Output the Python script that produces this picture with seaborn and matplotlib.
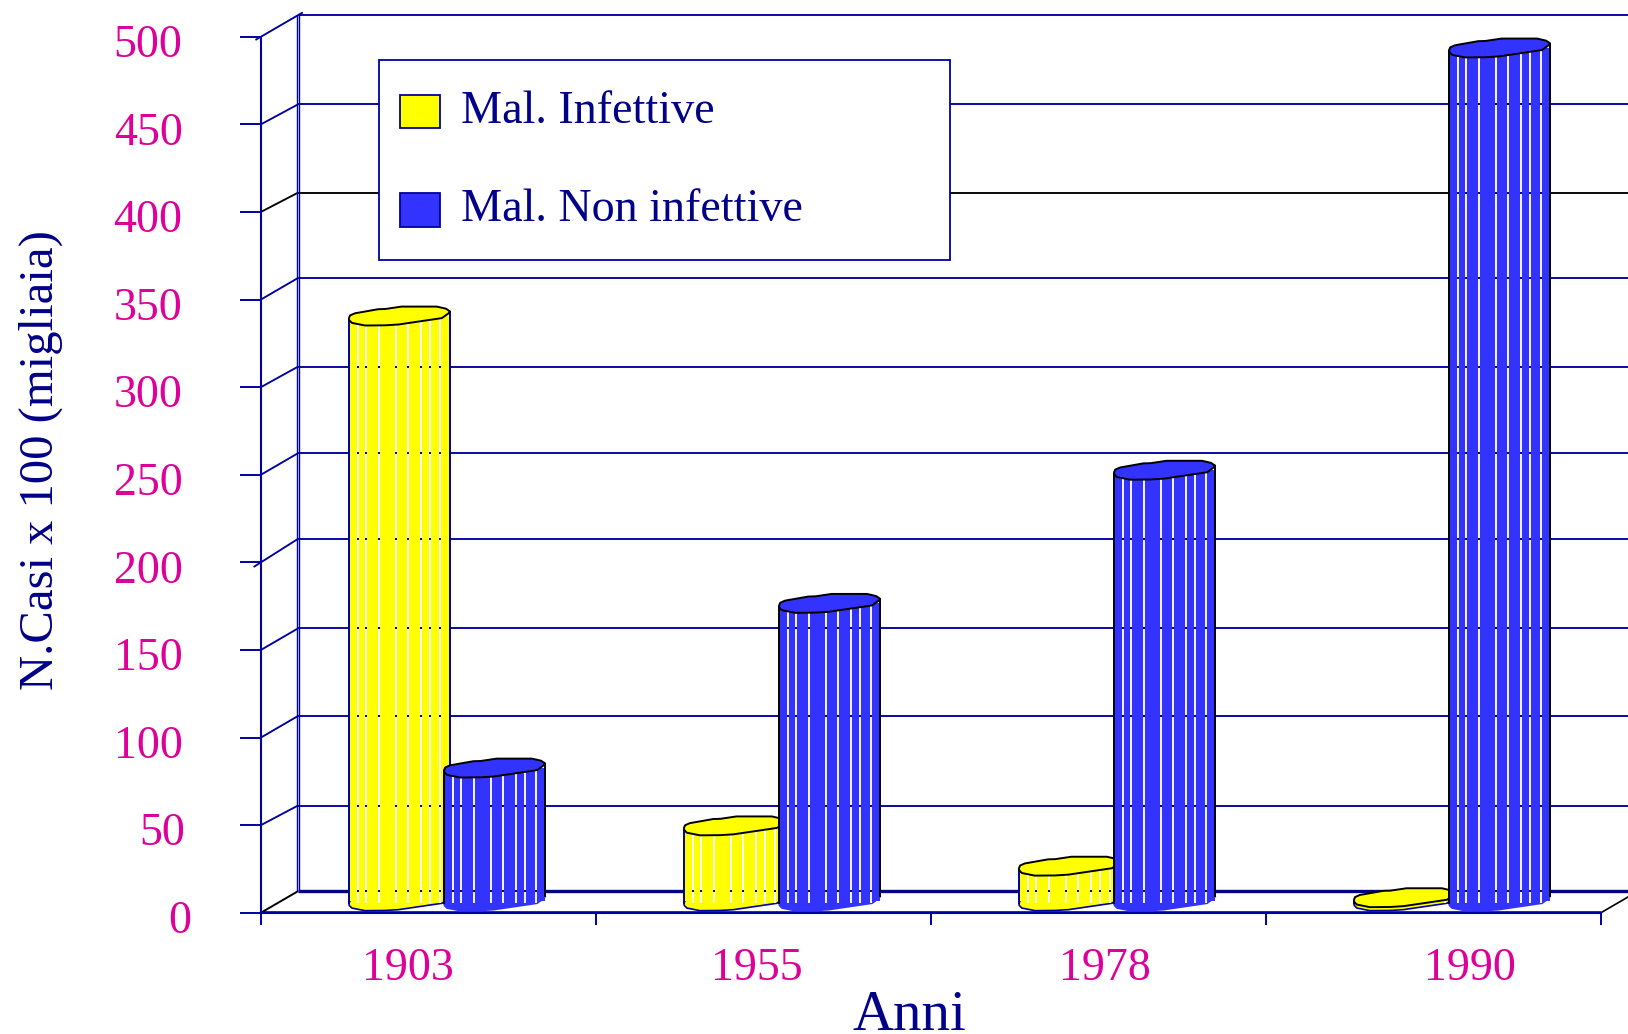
import numpy as np
import pandas as pd
import matplotlib
matplotlib.use("Agg")
import matplotlib.pyplot as plt
from matplotlib.patches import Polygon, Rectangle
from matplotlib.transforms import ScaledTranslation
import seaborn as sns

YEARS = ["1903", "1955", "1978", "1990"]
INFETTIVE = [334, 43, 20, 2]
NON_INFETTIVE = [76, 170, 246, 487]
SERIES = ["Mal. Infettive", "Mal. Non infettive"]
Y_TICKS = list(range(0, 501, 50))
YEAR_LABEL_POS = [-0.063, 0.98, 2.02, 3.11]
Y_LABEL_DX = [9, 3, 0, 0, 0, 0, 0, 0, 0, 0, 0]  # the labels are not quite right aligned
BACK_NUDGE = [0, -1.1, 0, 0, 1.1, 0, -0.6, 0, -1.3, -0.9, 0]  # wall grid is a bit uneven

NAVY = "#0000A0"
TEXT_NAVY = "#000088"
PINK = "#DD0099"
YELLOW = "#FFFF00"
BLUE = "#3333FF"

W, H = 1628, 1034
LEFT, RIGHT, TOP, BOTTOM = 261, 1601, 36.7, 912.7
PX_X = (RIGHT - LEFT) / 4  # pixels for one category
PX_Y = (BOTTOM - TOP) / 500  # pixels for one case unit
DEPTH_X = 37 / PX_X
DEPTH_Y = 21.5 / PX_Y

# outline of a cylinder cap: fraction of bar width, pixels above the centre
CAP_U = [0, 0.012, 0.06, 0.29, 0.36, 0.52, 0.87, 0.96, 1, 0.985, 0.92, 0.49, 0.36, 0.16, 0.03, 0.005]
CAP_DY = [-2.5, 0.5, 2.6, 6.7, 6.9, 9.3, 9.3, 7.2, 4.5, 2.5, -2.2, -8.6, -9.4, -9.6, -7, -4.5]
STRIPES = [0.09, 0.17, 0.295, 0.465, 0.583, 0.71, 0.805, 0.905]

sns.set_theme(style="white")
plt.rcParams["font.family"] = ["Liberation Serif", "DejaVu Serif"]

df = pd.DataFrame({
    "anno": YEARS * 2,
    "casi": INFETTIVE + NON_INFETTIVE,
    "serie": [SERIES[0]] * 4 + [SERIES[1]] * 4,
})

fig = plt.figure(figsize=(W / 100, H / 100), dpi=100)
ax = fig.add_axes([LEFT / W, 1 - BOTTOM / H, (RIGHT - LEFT) / W, (BOTTOM - TOP) / H])
ax.patch.set_alpha(0)

sns.barplot(data=df, x="anno", y="casi", hue="serie", hue_order=SERIES,
            palette=[YELLOW, BLUE], order=YEARS, width=0.568, linewidth=0,
            saturation=1, ax=ax)
ax.set_xlim(-0.5, 3.5)
ax.set_ylim(0, 500)


def line(xs, ys, color=NAVY, lw=1.35, **kw):
    ax.plot(xs, ys, color=color, lw=lw, clip_on=False, solid_capstyle="butt", **kw)


# back wall and side wall
x0 = -0.5
xb = x0 + DEPTH_X
xend = 3.5 + DEPTH_X
back_y = [v + DEPTH_Y + n for v, n in zip(Y_TICKS, BACK_NUDGE)]
for v, by in zip(Y_TICKS, back_y):
    c = "black" if v == 400 else NAVY
    if v == 0:
        continue
    line([xb, xend], [by, by], c, zorder=1.5)
    t0, t1 = (0, 1)
    if v == 500:
        t0, t1 = -0.15, 1.13
    if v == 200:
        t0 = -0.2
    line([x0 + t0 * DEPTH_X, x0 + t1 * DEPTH_X], [v + t0 * (by - v), v + t1 * (by - v)], c, zorder=1.5)

line([x0, xb], [0, DEPTH_Y], "black", 1.4, zorder=1.6)
line([3.5, xend], [0, DEPTH_Y], "black", 1.2, zorder=1.6)
line([xb, xend], [DEPTH_Y, DEPTH_Y], "#000080", 2.4, zorder=1.5)
for dx in (-1.1, 1.1):
    line([xb + dx / PX_X] * 2, [DEPTH_Y, 500 + DEPTH_Y], NAVY, 1.0, zorder=1.5)
line([x0, 3.5], [0.45, 0.45], "black", 1.1, zorder=1.6)

# turn the flat bars into striped cylinders
for i, (container, color) in enumerate(zip(ax.containers[:2], [YELLOW, BLUE])):
    side = NAVY if color == YELLOW else "black"
    z = 3 + i
    for rect in container:
        rect.set_x(rect.get_x() + DEPTH_X / 2 - 3 / PX_X)
        rect.set_width(rect.get_width() + 6 / PX_X)
        rect.set_y(DEPTH_Y / 2 + 0.5)
        rect.set_zorder(z)
        xl, w = rect.get_x(), rect.get_width()
        base, top = rect.get_y(), rect.get_y() + rect.get_height()
        cap_x = xl + np.array(CAP_U) * w
        cap_y = np.array(CAP_DY) / PX_Y

        ax.add_patch(Polygon(np.c_[cap_x, base + cap_y], closed=True, facecolor=color,
                             edgecolor=NAVY if color == YELLOW else BLUE, lw=1.2, zorder=z - 0.1))
        ax.add_patch(Polygon(np.c_[cap_x, top + cap_y], closed=True, facecolor=color,
                             edgecolor="black", lw=1.4, joinstyle="round", zorder=z + 0.4))
        line([xl, xl], [base - 2.5 / PX_Y, top - 2.5 / PX_Y], side, 1.4, zorder=z + 0.3)
        line([xl + w, xl + w], [base + 4.5 / PX_Y, top + 4.5 / PX_Y], side, 1.4, zorder=z + 0.3)

        stripe_low = base - 2 / PX_Y
        for f in STRIPES:
            sx = xl + f * w
            line([sx, sx], [stripe_low, top], "white", 1.35, zorder=z + 0.1)
            # the wall grid shows through the gaps
            gy = [by for by in back_y if stripe_low < by < top]
            ax.plot([sx] * len(gy), gy, ls="", marker="s", ms=1.7, mew=0,
                    color="#000080", zorder=z + 0.2)

# axes, ticks and labels
sns.despine(ax=ax)
for s in ("left", "bottom"):
    ax.spines[s].set_color(NAVY)
    ax.spines[s].set_linewidth(1.5)
ax.set_yticks(Y_TICKS)
ax.set_xticks(np.arange(-0.5, 4), [""] * 5)
ax.set_xticks(YEAR_LABEL_POS, YEARS, minor=True)
ax.tick_params(axis="y", length=15, width=1.4, color=NAVY, labelsize=33, labelcolor=PINK, pad=41.5, left=True)
ax.tick_params(axis="x", which="major", length=8.6, width=1.4, color=NAVY, bottom=True)
ax.tick_params(axis="x", which="minor", length=0, labelsize=33, labelcolor=PINK, pad=25)
for lab, dx in zip(ax.get_yticklabels(), Y_LABEL_DX):
    shift = ScaledTranslation(dx / 100, -4 / 100, fig.dpi_scale_trans)
    lab.set_transform(lab.get_transform() + shift)

ax.set_ylabel("N.Casi x 100 (migliaia)", fontsize=35, color=TEXT_NAVY, va="center", ha="center")
ax.yaxis.set_label_coords((41 - LEFT) / (RIGHT - LEFT), (BOTTOM - 460) / (BOTTOM - TOP))
ax.set_xlabel("Anni", fontsize=41, color=TEXT_NAVY, va="center", ha="center")
ax.xaxis.set_label_coords((909 - LEFT) / (RIGHT - LEFT), (BOTTOM - 1016) / (BOTTOM - TOP))

# legend box is wider than its content
ax.add_patch(Rectangle((378.5 / W, 1 - 260 / H), 571 / W, 200.5 / H, transform=fig.transFigure,
                       facecolor="white", edgecolor=NAVY, lw=1.3, clip_on=False, zorder=6))
handles, labels = ax.get_legend_handles_labels()
leg = ax.legend(handles, labels, loc="upper left", bbox_to_anchor=(400 / W, 1 - 95 / H),
                bbox_transform=fig.transFigure, frameon=False, borderpad=0, borderaxespad=0,
                fontsize=33.2, handlelength=0.87, handleheight=0.74, handletextpad=0.46,
                labelspacing=1.2, labelcolor=TEXT_NAVY)
leg.set_zorder(7)
for h in leg.legend_handles:
    h.set_edgecolor(NAVY)
    h.set_linewidth(1.3)
for t in leg.get_texts():
    t.set_y(5)  # the labels sit a little above their swatches

fig.savefig("out.png", dpi=100)
plt.close(fig)
